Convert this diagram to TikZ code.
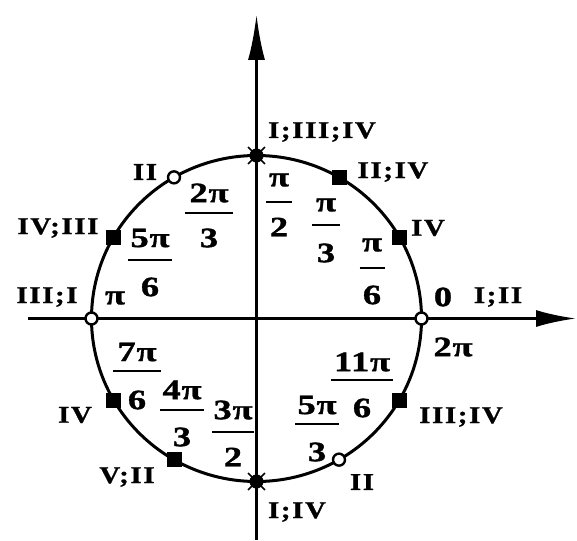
\documentclass[tikz,border=0pt]{standalone}
\usepackage{fontspec}
\setmainfont{Liberation Serif}
\newfontfamily\rmnfont[FakeStretch=1.2,LetterSpace=7,FakeBold=1.2]{Liberation Serif}
\newfontfamily\frfont[FakeStretch=1.3,LetterSpace=3,FakeBold=1.2]{Liberation Serif}
\usetikzlibrary{arrows.meta,calc}
\tikzset{
  roman/.style={font=\rmnfont\bfseries\fontsize{24}{26}\selectfont, inner sep=0pt},
  fracnum/.style={font=\frfont\bfseries\fontsize{28}{30}\selectfont, inner sep=0pt},
  fbar/.style={line width=2pt},
  circline/.style={line width=3pt},
  sqmark/.style={rectangle, fill=black, minimum size=15pt, inner sep=0pt},
  openmark/.style={circle, draw=black, fill=white, line width=2.4pt, minimum size=12pt, inner sep=0pt},
  starmark/.style={circle, fill=black, minimum size=14pt, inner sep=0pt},
  spoke/.style={line width=1.5pt}
}
\newcommand{\frc}[8]{%
  \node[fracnum] (#1n) at (#2,#3) {#7};
  \node[fracnum] (#1d) at (#2,#5) {#8};
  \coordinate (#1a) at ({#2-#6},#4);
  \coordinate (#1b) at ({#2+#6},#4);
  \draw[fbar] (#1a) -- (#1b);}
\begin{document}
\begin{tikzpicture}[x=1pt,y=-1pt]
\fill[white] (0,0) rectangle (577,540);
\useasboundingbox (0,0) rectangle (577,540);
\coordinate (O) at (256.5,318.5);
% axes
\coordinate (vb) at (256.5,540);
\coordinate (vt) at (256.5,14);
\coordinate (hl) at (28,318.5);
\coordinate (hr) at (576,318.5);
\draw[line width=3.4pt,-{Latex[length=46pt,width=17pt]}] (vb) -- (vt);
\draw[line width=2.8pt,-{Latex[length=40pt,width=17pt]}] (hl) -- (hr);
% circle
\draw[circline] (O) ellipse [x radius=165pt, y radius=163pt];
\foreach \a in {0,30,60,90,120,150,180,210,240,270,300,330}
  \coordinate (p\a) at ({256.5+165*cos(\a)},{318.5-163*sin(\a)});
% markers
\foreach \a in {30,60,150,210,240,330}
  \node[sqmark] (m\a) at (p\a) {};
\foreach \a in {0,120,180,300}
  \node[openmark] (m\a) at (p\a) {};
\foreach \a in {90,270}{
  \node[starmark] (m\a) at (p\a) {};
  \foreach \b in {0,45,...,315}
    \draw[spoke] (m\a.center) -- ++(\b:12pt);
}
% fractions
\frc{f90}{279}{180}{202}{227}{13}{π}{2}
\frc{f60}{326}{205}{225}{253}{14}{π}{3}
\frc{f30}{372}{245}{268}{295}{12.5}{π}{6}
\frc{f120}{209}{193}{213}{238}{24}{2π}{3}
\frc{f150}{150}{238}{260}{287}{22}{5π}{6}
\frc{f210}{137}{352}{371}{400}{24}{7π}{6}
\frc{f240}{182}{390}{410}{437}{22}{4π}{3}
\frc{f270}{233}{410}{432}{457}{21}{3π}{2}
\frc{f330}{362}{362}{380}{408}{31}{11π}{6}
\frc{f300}{317}{405}{424}{452}{22}{5π}{3}
% single values
\node[fracnum] (v180) at (115,298) {π};
\node[fracnum] (v0) at (443,297) {0};
\node[fracnum] (v360) at (453,347) {2π};
% roman labels
\node[roman] (l120) at (145,172) {II};
\node[roman] (l150) at (58,228) {IV;III};
\node[roman] (l180) at (47,297) {III;I};
\node[roman] (l90) at (322,132) {I;III;IV};
\node[roman] (l60) at (393,172) {II;IV};
\node[roman] (l30) at (428,228) {IV};
\node[roman] (l0) at (498,297) {I;II};
\node[roman] (l330) at (461,417) {III;IV};
\node[roman] (l300) at (362,482) {II};
\node[roman] (l270) at (297,512) {I;IV};
\node[roman] (l240) at (127,477) {V;II};
\node[roman] (l210) at (75,415) {IV};
\end{tikzpicture}
\end{document}
